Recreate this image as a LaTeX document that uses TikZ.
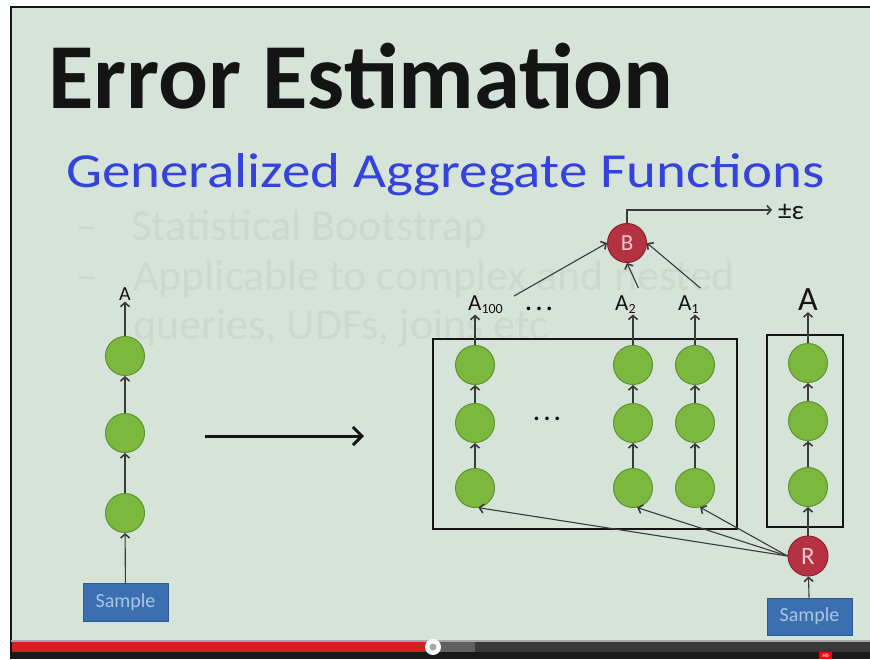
\documentclass[tikz,border=0pt]{standalone}
\usepackage{fontspec}
\setmainfont{Carlito}
\usetikzlibrary{arrows.meta,calc}
\definecolor{slidebg}{HTML}{D6E3D9}
\definecolor{ghost}{HTML}{CCD9CF}
\definecolor{titlecol}{HTML}{141414}
\definecolor{subcol}{HTML}{3443DB}
\definecolor{gfill}{HTML}{7DB83E}
\definecolor{gborder}{HTML}{5C9430}
\definecolor{rfill}{HTML}{B53242}
\definecolor{rborder}{HTML}{8E2232}
\definecolor{rtext}{HTML}{F2C9CD}
\definecolor{sfill}{HTML}{3C6FB0}
\definecolor{sborder}{HTML}{2C5A92}
\definecolor{stext}{HTML}{A9C6E6}
\definecolor{lcol}{HTML}{3A3A3A}
\definecolor{barred}{HTML}{D61F1F}
\tikzset{
  gnode/.style={circle, fill=gfill, draw=gborder, line width=1pt, minimum size=39pt, inner sep=0pt},
  rnode/.style={circle, fill=rfill, draw=rborder, line width=1pt, minimum size=40pt, inner sep=0pt, text=rtext, font=\fontsize{25}{25}\selectfont},
  sbox/.style={rectangle, fill=sfill, draw=sborder, line width=1pt, text=stext, font=\fontsize{20}{20}\selectfont, minimum width=85pt, minimum height=38pt, inner sep=0pt},
  conn/.style={draw=lcol, line width=1.1pt, -{Straight Barb[length=4pt,width=9pt,line width=1.6pt]}},
  lbl/.style={text=titlecol, inner sep=1pt},
  frame/.style={draw=titlecol, line width=2.5pt, inner sep=0pt},
  ghosttext/.style={anchor=base west, text=ghost, inner sep=0pt, font=\fontsize{44}{44}\selectfont}
}
\begin{document}
\begin{tikzpicture}[x=1pt,y=-1pt]
\useasboundingbox (0,0) rectangle (870,659);
\fill[white] (0,0) rectangle (870,659);
\fill[slidebg] (11,7) rectangle (870,641);
\draw[titlecol, line width=2pt] (11,659) -- (11,7) -- (870,7);

% titles
\node[anchor=base west, inner sep=0pt, text=titlecol, font=\fontsize{93}{93}\selectfont\bfseries] (title) at (48,108) {Error Estimation};
\node[anchor=base west, inner sep=0pt, text=subcol, font=\fontsize{49}{49}\selectfont] (subtitle) at (66,187) {\scalebox{1.163}[1]{Generalized Aggregate Functions}};

% faded bullet text
\node[ghosttext] (g1d) at (76,240) {–};
\node[ghosttext] (g1) at (131,240) {Statistical Bootstrap};
\node[ghosttext] (g2d) at (76,290) {–};
\node[ghosttext] (g2) at (133,290) {Applicable to complex and nested};
\node[ghosttext] (g3) at (133,339) {queries, UDFs, joins etc};

% left chain
\node[gnode] (l1) at (125,356) {};
\node[gnode] (l2) at (125,433) {};
\node[gnode] (l3) at (125,513) {};
\node[sbox] (ls) at (125.5,602.5) {Sample};
\node[lbl, font=\fontsize{20}{20}\selectfont] (la) at (125,294) {A};
\draw[conn] (ls) -- (l3);
\draw[conn] (l3) -- (l2);
\draw[conn] (l2) -- (l1);
\draw[conn] (l1) -- (la);

% big transform arrow
\coordinate (bs) at (205,436);
\coordinate (be) at (364,436);
\draw[titlecol, line width=3pt, -{Straight Barb[length=9pt,width=18pt,line width=3pt]}] (bs) -- (be);

% big box
\node[frame, minimum width=304pt, minimum height=190pt] (bigbox) at (585,434) {};
\foreach \c/\x in {1/475,2/633,3/695}{
  \node[gnode] (c\c1) at (\x,365) {};
  \node[gnode] (c\c2) at (\x,423) {};
  \node[gnode] (c\c3) at (\x,488) {};
  \draw[conn] (c\c3) -- (c\c2);
  \draw[conn] (c\c2) -- (c\c1);
}
\node[inner sep=0pt, font=\fontsize{24}{24}\selectfont\bfseries] (mdots) at (547,419) {.\,.\,.};

% labels above big box
\node[lbl, anchor=base west, font=\fontsize{23}{23}\selectfont] (a100) at (467,310) {A\raisebox{-0.3ex}{\fontsize{14}{14}\selectfont 100}};
\node[inner sep=0pt, font=\fontsize{24}{24}\selectfont\bfseries] (tdots) at (539,309) {.\,.\,.};
\node[lbl, anchor=base west, font=\fontsize{23}{23}\selectfont] (a2) at (614,310) {A\raisebox{-0.3ex}{\fontsize{14}{14}\selectfont 2}};
\node[lbl, anchor=base west, font=\fontsize{23}{23}\selectfont] (a1) at (677,310) {A\raisebox{-0.3ex}{\fontsize{14}{14}\selectfont 1}};
\draw[conn] (c11) -- (c11 |- a100.south);
\draw[conn] (c21) -- (c21 |- a2.south);
\draw[conn] (c31) -- (c31 |- a1.south);

% B node
\node[rnode, minimum size=39pt, font=\fontsize{23}{23}\selectfont] (b) at (627,243) {B};
\draw[conn] ($(a100.north east)+(10,2)$) -- (b.west);
\draw[conn] ($(a2.north)+(13,-6)$) -- (b.south);
\draw[conn] ($(a1.north)+(12,-6)$) -- (b.east);
\node[anchor=west, inner sep=0pt, text=titlecol, font=\fontsize{27}{27}\selectfont] (eps) at (778,212) {±ε};
\draw[conn] (b.north) |- ($(eps.west)+(-6,-2)$);

% small box
\node[frame, minimum width=76pt, minimum height=192pt] (smallbox) at (805,431) {};
\node[gnode] (s1) at (808,363) {};
\node[gnode] (s2) at (808,421) {};
\node[gnode] (s3) at (808,487) {};
\node[lbl, font=\fontsize{34}{34}\selectfont] (sa) at (808,300) {A};
\draw[conn] (s3) -- (s2);
\draw[conn] (s2) -- (s1);
\draw[conn] (s1) -- (sa);

% R and sample
\node[rnode] (r) at (808,556) {R};
\node[sbox, minimum height=37pt] (rs) at (809.5,616.5) {Sample};
\draw[conn] (rs) -- (r);
\draw[conn] (r) -- (s3);
\draw[conn] (r.west) -- (c13.-80);
\draw[conn] (r.west) -- (c23.-78);
\draw[conn] (r.west) -- (c33.-75);

% video progress bar
\fill[gray!70] (11,640) rectangle (870,642);
\fill[barred] (12,642) rectangle (433,652);
\fill[gray!75!black] (433,642) rectangle (475,652);
\fill[black!78] (475,642) rectangle (870,652);
\fill[black!90] (12,652) rectangle (870,659);
\fill[white] (433,647) circle (8);
\fill[gray!70] (433,647) circle (3.5);
\node[fill=red, text=white, inner sep=0.5pt, font=\fontsize{5}{5}\selectfont\bfseries, minimum width=13pt, minimum height=7pt, anchor=north west] (hd) at (819,652) {HD};
\end{tikzpicture}
\end{document}
